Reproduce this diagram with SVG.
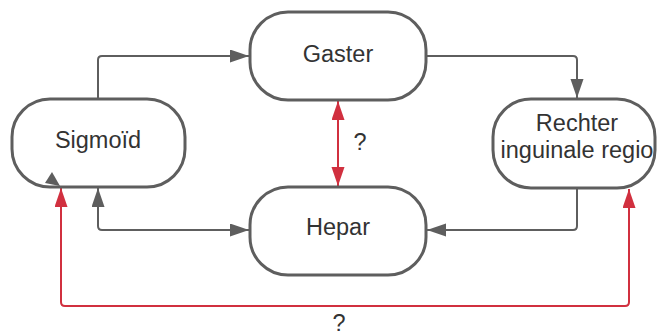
<svg xmlns="http://www.w3.org/2000/svg" width="657" height="336" viewBox="0 0 657 336">
<defs>
<style>
.box{fill:#fff;stroke:#5e5e5e;stroke-width:3}
.lbl{font-family:"Liberation Sans",Arial,sans-serif;font-size:23.5px;fill:#333;text-anchor:middle}
.c{fill:none;stroke:#5e5e5e;stroke-width:2}
.r{fill:none;stroke:#d1303f;stroke-width:2}
</style>
<marker id="ag" markerUnits="userSpaceOnUse" markerWidth="20" markerHeight="14" refX="19" refY="6.5" orient="auto-start-reverse"><path d="M0,0 L19,6.5 L0,13 z" fill="#5e5e5e"/></marker>
<marker id="ar" markerUnits="userSpaceOnUse" markerWidth="20" markerHeight="14" refX="19" refY="6.5" orient="auto-start-reverse"><path d="M0,0 L19,6.5 L0,13 z" fill="#d1303f"/></marker>
</defs>
<rect width="657" height="336" fill="#fff"/>
<g id="connectors">
<path class="c" d="M98,99 V60 Q98,56 102,56 H249" marker-end="url(#ag)"/>
<path class="c" d="M426,56 H573 Q577,56 577,60 V98" marker-end="url(#ag)"/>
<path class="c" d="M577,188 V226 Q577,230 573,230 H427" marker-end="url(#ag)"/>
<path class="c" d="M249,230 H102 Q98,230 98,226 V188" marker-start="url(#ag)" marker-end="url(#ag)"/>
<path class="r" d="M338,101 V186" marker-start="url(#ar)" marker-end="url(#ar)"/>
<path class="r" d="M61,188 V302 Q61,306 65,306 H625 Q629,306 629,302 V189" marker-start="url(#ar)" marker-end="url(#ar)"/>
<text class="lbl" x="360" y="150">?</text>
<text class="lbl" x="339" y="331">?</text>
</g>
<g id="gaster"><rect class="box" x="250" y="12" width="176" height="88" rx="38"/><text class="lbl" x="338" y="62">Gaster</text></g>
<g id="sigmoid"><rect class="box" x="12" y="99" width="173" height="88" rx="38"/><text class="lbl" x="98" y="148">Sigmoïd</text></g>
<g id="rechter"><rect class="box" x="493" y="99" width="162" height="89" rx="38"/><text class="lbl" x="577" y="131">Rechter</text><text class="lbl" x="577" y="158">inguinale regio</text></g>
<g id="hepar"><rect class="box" x="250" y="187" width="176" height="88" rx="38"/><text class="lbl" x="338" y="235">Hepar</text></g>
<g id="stray-arrowhead"><polygon points="45,183 52,172 60,186" fill="#5e5e5e"/></g>
</svg>
